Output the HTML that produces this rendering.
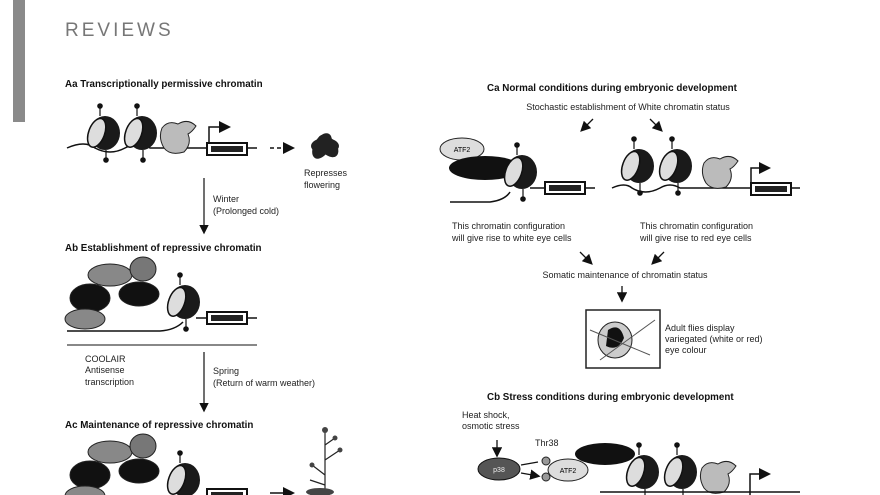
<!DOCTYPE html>
<html><head><meta charset="utf-8"><style>
html,body{margin:0;padding:0;background:#fff;}
svg{display:block;font-family:"Liberation Sans",sans-serif;}
.t{font-size:9.8px;font-weight:bold;fill:#111}
.s{font-size:9px;fill:#222}
</style></head><body>
<svg width="880" height="495" viewBox="0 0 880 495" xmlns="http://www.w3.org/2000/svg">
<defs>
<marker id="ah" markerWidth="8" markerHeight="8" refX="6" refY="4" orient="auto"><path d="M0,0 L8,4 L0,8z" fill="#111"/></marker>
<g id="nuc">
<ellipse cx="2" cy="0" rx="15" ry="17" fill="#1a1a1a"/>
<ellipse cx="-6" cy="2" rx="8" ry="15" fill="#ddd" stroke="#111" stroke-width="1.5" transform="rotate(20)"/>
<path d="M-3,-17 L-3,-26" stroke="#111" stroke-width="1.2"/><circle cx="-3" cy="-27" r="2.8" fill="#111"/>
<path d="M3,17 L3,26" stroke="#111" stroke-width="1.2"/><circle cx="3" cy="27" r="2.8" fill="#111"/>
</g>
<g id="gene">
<rect x="0" y="-6" width="40" height="12" fill="#fff" stroke="#111" stroke-width="2"/>
<rect x="4" y="-3" width="32" height="6" fill="#222"/>
</g>
<g id="tf">
<path d="M-16,-10 Q-10,-18 0,-14 Q10,-20 18,-12 Q14,-6 10,-4 Q14,6 6,14 Q-8,18 -14,10 Q-20,0 -16,-10z" fill="#bbb" stroke="#222"/>
</g>
</defs>
<rect x="13" y="0" width="12" height="122" fill="#8a8a8a"/>
<text x="65" y="36" font-size="19" fill="#777" letter-spacing="3">REVIEWS</text>

<!-- Aa -->
<text x="65" y="87" class="t">Aa  Transcriptionally permissive chromatin</text>
<path d="M67,148 Q85,140 95,148 Q110,156 125,148 Q140,140 150,148 L257,148" fill="none" stroke="#111" stroke-width="1.5"/>
<use href="#nuc" x="103" y="133"/><use href="#nuc" x="140" y="133"/>
<use href="#tf" x="178" y="138"/>
<path d="M209,148 V127 H228" fill="none" stroke="#111" stroke-width="1.5" marker-end="url(#ah)"/>
<use href="#gene" x="207" y="149"/>
<path d="M270,148 H292" stroke="#111" stroke-width="1.5" stroke-dasharray="4,3" marker-end="url(#ah)"/>
<g fill="#222"><ellipse cx="325" cy="146" rx="14" ry="8"/><ellipse cx="322" cy="146" rx="8" ry="14" transform="rotate(30 322 146)"/><ellipse cx="328" cy="146" rx="8" ry="13" transform="rotate(-40 328 146)"/></g>
<text x="304" y="176" class="s">Represses</text><text x="304" y="188" class="s">flowering</text>
<path d="M204,178 V232" stroke="#111" stroke-width="1.2" marker-end="url(#ah)"/>
<text x="213" y="202" class="s">Winter</text><text x="213" y="214" class="s">(Prolonged cold)</text>

<!-- Ab -->
<text x="65" y="251" class="t">Ab  Establishment of repressive chromatin</text>
<g stroke="#222">
<ellipse cx="110" cy="275" rx="22" ry="11" fill="#888"/>
<ellipse cx="143" cy="269" rx="13" ry="12" fill="#777"/>
<ellipse cx="90" cy="298" rx="20" ry="14" fill="#111"/>
<ellipse cx="139" cy="294" rx="20" ry="12" fill="#111"/>
<ellipse cx="85" cy="319" rx="20" ry="10" fill="#888"/>
</g>
<path d="M67,331 L160,331 Q175,330 183,322" fill="none" stroke="#111" stroke-width="1.5"/>
<use href="#nuc" x="183" y="302"/>
<path d="M196,318 H257" stroke="#111" stroke-width="1.5"/>
<use href="#gene" x="207" y="318"/>
<path d="M67,345 H257" stroke="#111" stroke-width="1"/>
<text x="85" y="362" class="s">COOLAIR</text><text x="85" y="373" class="s">Antisense</text><text x="85" y="385" class="s">transcription</text>
<path d="M204,352 V410" stroke="#111" stroke-width="1.2" marker-end="url(#ah)"/>
<text x="213" y="374" class="s">Spring</text><text x="213" y="386" class="s">(Return of warm weather)</text>

<!-- Ac -->
<text x="65" y="428" class="t">Ac  Maintenance of repressive chromatin</text>
<g stroke="#222">
<ellipse cx="110" cy="452" rx="22" ry="11" fill="#888"/>
<ellipse cx="143" cy="446" rx="13" ry="12" fill="#777"/>
<ellipse cx="90" cy="475" rx="20" ry="14" fill="#111"/>
<ellipse cx="139" cy="471" rx="20" ry="12" fill="#111"/>
<ellipse cx="85" cy="496" rx="20" ry="10" fill="#888"/>
</g>
<use href="#nuc" x="183" y="480"/>
<use href="#gene" x="207" y="495"/>
<path d="M270,493 H292" stroke="#111" stroke-width="1.5" marker-end="url(#ah)"/>
<g stroke="#222" fill="none" stroke-width="1.2"><path d="M325,495 V430 M325,460 L340,450 M325,475 L312,465 M325,445 L335,438 M325,485 L310,480"/></g>
<g fill="#444"><circle cx="325" cy="430" r="3"/><circle cx="340" cy="450" r="2.5"/><circle cx="312" cy="465" r="2.5"/><circle cx="335" cy="438" r="2.5"/><ellipse cx="320" cy="492" rx="14" ry="4"/></g>

<!-- Ca -->
<text x="487" y="91" class="t">Ca  Normal conditions during embryonic development</text>
<text x="628" y="110" class="s" text-anchor="middle">Stochastic establishment of White chromatin status</text>
<path d="M593,119 L582,130" stroke="#111" stroke-width="1.3" marker-end="url(#ah)"/>
<path d="M650,119 L661,130" stroke="#111" stroke-width="1.3" marker-end="url(#ah)"/>
<ellipse cx="462" cy="149" rx="22" ry="11" fill="#ddd" stroke="#222"/>
<text x="462" y="152" font-size="7" text-anchor="middle">ATF2</text>
<ellipse cx="485" cy="168" rx="36" ry="12" fill="#111"/>
<path d="M450,202 L490,202 Q505,200 510,192 M530,188 H595" fill="none" stroke="#111" stroke-width="1.5"/>
<use href="#nuc" x="520" y="172"/>
<use href="#gene" x="545" y="188"/>
<path d="M612,188 Q625,182 632,188 Q645,196 660,188 Q670,182 680,188 L800,188" fill="none" stroke="#111" stroke-width="1.5"/>
<use href="#nuc" x="637" y="166"/><use href="#nuc" x="675" y="166"/>
<use href="#tf" x="720" y="173"/>
<path d="M751,188 V168 H768" fill="none" stroke="#111" stroke-width="1.5" marker-end="url(#ah)"/>
<use href="#gene" x="751" y="189"/>
<text x="452" y="229" class="s">This chromatin configuration</text><text x="452" y="241" class="s">will give rise to white eye cells</text>
<text x="640" y="229" class="s">This chromatin configuration</text><text x="640" y="241" class="s">will give rise to red eye cells</text>
<path d="M580,252 L591,263" stroke="#111" stroke-width="1.3" marker-end="url(#ah)"/>
<path d="M664,252 L653,263" stroke="#111" stroke-width="1.3" marker-end="url(#ah)"/>
<text x="625" y="278" class="s" text-anchor="middle">Somatic maintenance of chromatin status</text>
<path d="M622,286 V300" stroke="#111" stroke-width="1.3" marker-end="url(#ah)"/>
<rect x="586" y="310" width="74" height="58" fill="#fff" stroke="#222" stroke-width="1.5"/>
<ellipse cx="615" cy="340" rx="17" ry="18" fill="#ccc" stroke="#222"/>
<path d="M608,330 Q620,322 624,338 Q618,352 606,346z" fill="#111"/>
<path d="M590,330 L650,355 M600,360 L655,320" stroke="#555" fill="none"/>
<text x="665" y="331" class="s">Adult flies display</text><text x="665" y="342" class="s">variegated (white or red)</text><text x="665" y="353" class="s">eye colour</text>

<!-- Cb -->
<text x="487" y="400" class="t">Cb  Stress conditions during embryonic development</text>
<text x="462" y="418" class="s">Heat shock,</text><text x="462" y="429" class="s">osmotic stress</text>
<path d="M497,440 V455" stroke="#111" stroke-width="1.3" marker-end="url(#ah)"/>
<ellipse cx="499" cy="469" rx="21" ry="11" fill="#555" stroke="#111"/>
<text x="499" y="472" font-size="7" text-anchor="middle" fill="#eee">p38</text>
<path d="M521,465 L538,462 M521,473 L538,476" stroke="#111" stroke-width="1.3" marker-end="url(#ah)"/>
<text x="535" y="446" class="s">Thr38</text>
<circle cx="546" cy="461" r="4" fill="#999" stroke="#222"/><circle cx="546" cy="477" r="4" fill="#999" stroke="#222"/>
<ellipse cx="568" cy="470" rx="20" ry="11" fill="#ddd" stroke="#222"/>
<text x="568" y="473" font-size="7" text-anchor="middle">ATF2</text>
<ellipse cx="605" cy="454" rx="30" ry="11" fill="#111"/>
<use href="#nuc" x="642" y="472"/><use href="#nuc" x="680" y="472"/>
<use href="#tf" x="718" y="478"/>
<path d="M750,495 V474 H768" fill="none" stroke="#111" stroke-width="1.5" marker-end="url(#ah)"/>
<path d="M600,492 H800" stroke="#111" stroke-width="1.5"/>
</svg>
</body></html>
